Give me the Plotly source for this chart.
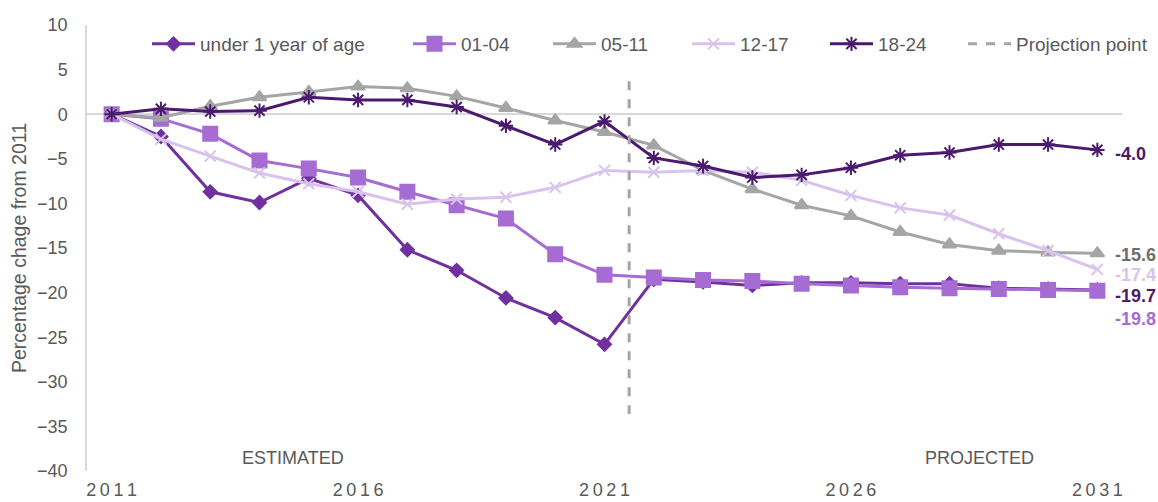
import plotly.graph_objects as go

years = list(range(2011, 2032))

under_1 = [0, -2.5, -8.7, -9.9, -7.2, -9.1, -15.2, -17.5, -20.6, -22.8, -25.8,
           -18.5, -18.8, -19.2, -18.9, -18.9, -19.0, -19.0, -19.5, -19.6, -19.7]
age_01_04 = [0, -0.5, -2.2, -5.2, -6.1, -7.1, -8.7, -10.2, -11.7, -15.7, -18.0,
             -18.3, -18.6, -18.7, -19.0, -19.2, -19.4, -19.5, -19.6, -19.7, -19.8]
age_05_11 = [0, -0.4, 0.9, 1.9, 2.5, 3.1, 2.9, 2.0, 0.7, -0.7, -2.0,
             -3.5, -6.3, -8.4, -10.2, -11.4, -13.2, -14.6, -15.3, -15.5, -15.6]
age_12_17 = [0, -2.8, -4.7, -6.6, -7.8, -8.7, -10.1, -9.5, -9.3, -8.2, -6.3,
             -6.5, -6.3, -6.5, -7.4, -9.1, -10.5, -11.3, -13.4, -15.3, -17.4]
age_18_24 = [0, 0.6, 0.3, 0.4, 1.9, 1.6, 1.6, 0.8, -1.3, -3.4, -0.8,
             -4.9, -5.8, -7.1, -6.8, -6.0, -4.6, -4.3, -3.4, -3.4, -4.0]

projection_x = [2021.5, 2021.5]
projection_y = [3.7, -33.6]

x_tick_years = [2011, 2016, 2021, 2026, 2031]
y_ticks = list(range(-40, 11, 5))

series = [
    dict(name="under 1 year of age", y=under_1, color="#7030A0", symbol="diamond", size=10,
         label_color="#4B1A6E", yshift=-6, leg_line=142),
    dict(name="01-04", y=age_01_04, color="#A66CD4", symbol="square", size=14,
         label_color="#A66CD4", yshift=-28, leg_line=403),
    dict(name="05-11", y=age_05_11, color="#A5A5A5", symbol="triangle-up", size=12,
         label_color="#6E6E6E", yshift=-2, leg_line=543),
    dict(name="12-17", y=age_12_17, color="#D9C3EC", symbol="x-thin-open", size=11,
         label_color="#D9C3EC", yshift=-6, leg_line=682),
    dict(name="18-24", y=age_18_24, color="#4B1A6E", symbol="asterisk-open", size=12,
         label_color="#4B1A6E", yshift=-4, leg_line=820),
]

W, H = 1158, 502
FONT = "Liberation Sans, Arial"
fig = go.Figure()
layout_legends = {}

def legend_box(line_start):
    return dict(
        x=(line_start + 5) / W, xref="container", xanchor="left",
        y=1 - 44 / H, yref="container", yanchor="middle",
        orientation="h", itemwidth=43, bgcolor="rgba(0,0,0,0)",
        font=dict(family=FONT, size=19, color="#595959"),
    )

for i, s in enumerate(series):
    key = "legend" if i == 0 else f"legend{i+1}"
    fig.add_trace(go.Scatter(
        x=years, y=s["y"], name=s["name"], mode="lines+markers",
        line=dict(color=s["color"], width=3),
        marker=dict(symbol=s["symbol"], size=s["size"], color=s["color"],
                    line=dict(color=s["color"], width=2)),
        legend=key,
    ))
    layout_legends[key] = legend_box(s["leg_line"])

fig.add_trace(go.Scatter(
    x=projection_x, y=projection_y, name="Projection point", mode="lines",
    line=dict(color="#A5A5A5", width=3, dash="dash"), legend="legend6",
))
layout_legends["legend6"] = legend_box(958)

annotations = []
for s in series:
    v = s["y"][-1]
    annotations.append(dict(
        x=years[-1], y=v, xref="x", yref="y", text=f"<b>{v:.1f}</b>",
        showarrow=False, xanchor="left", yanchor="middle", xshift=16, yshift=s["yshift"],
        font=dict(family=FONT, size=18, color=s["label_color"]),
    ))
annotations.append(dict(x=2014.67, y=-38.5, xref="x", yref="y", text="ESTIMATED",
                        showarrow=False, font=dict(family=FONT, size=18, color="#595959")))
annotations.append(dict(x=2028.6, y=-38.5, xref="x", yref="y", text="PROJECTED",
                        showarrow=False, font=dict(family=FONT, size=18, color="#595959")))

sp = "\u2009"
fig.update_layout(
    width=W, height=H,
    margin=dict(l=87, r=36, t=25, b=31, autoexpand=False),
    paper_bgcolor="white", plot_bgcolor="white",
    showlegend=True,
    annotations=annotations,
    xaxis=dict(range=[2010.5, 2031.5], tickvals=x_tick_years,
               ticktext=[sp.join(str(y)) for y in x_tick_years],
               showgrid=False, zeroline=False, showline=False, ticks="",
               ticklabelstandoff=6,
               tickfont=dict(family=FONT, size=18, color="#595959")),
    yaxis=dict(range=[-40, 10], tickvals=y_ticks, showgrid=False,
               zeroline=True, zerolinecolor="#D9D9D9", zerolinewidth=1.5,
               showline=True, linecolor="#D9D9D9", linewidth=1.5, ticks="",
               ticklabelstandoff=14,
               tickfont=dict(family=FONT, size=18, color="#595959"),
               title=dict(text="Percentage chage from 2011", standoff=5,
                          font=dict(family=FONT, size=19.5, color="#595959"))),
    **layout_legends,
)

fig.write_html("out.html", config={"displayModeBar": False},
               post_script="document.body.style.margin='0';document.body.style.padding='0';")
